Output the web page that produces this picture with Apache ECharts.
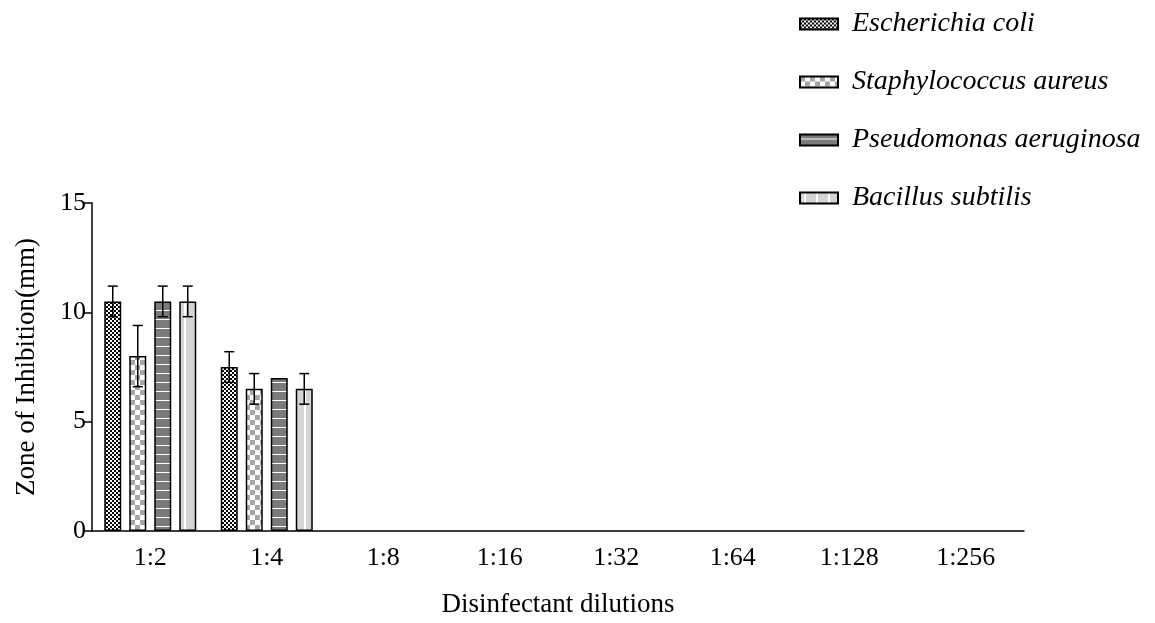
<!DOCTYPE html>
<html lang="en">
<head>
    <meta charset="utf-8">
    <title>Zone of Inhibition</title>
    <script src="https://cdn.jsdelivr.net/npm/echarts@6/dist/echarts.min.js"></script>
    <style>
        html, body { margin: 0; padding: 0; background: #fff; }
        #chart { width: 1155px; height: 623px; }
    </style>
</head>
<body>
<div id="chart"></div>
<script>
    var dilutions = ['1:2', '1:4', '1:8', '1:16', '1:32', '1:64', '1:128', '1:256'];
    var seriesNames = ['Escherichia coli', 'Staphylococcus aureus', 'Pseudomonas aeruginosa', 'Bacillus subtilis'];
    var ecoli = [10.5, 7.5, 0, 0, 0, 0, 0, 0];
    var saureus = [8, 6.5, 0, 0, 0, 0, 0, 0];
    var paeruginosa = [10.5, 7, 0, 0, 0, 0, 0, 0];
    var bsubtilis = [10.5, 6.5, 0, 0, 0, 0, 0, 0];
    var ecoliErr = [0.7, 0.7, 0, 0, 0, 0, 0, 0];
    var saureusErr = [1.4, 0.7, 0, 0, 0, 0, 0, 0];
    var paeruginosaErr = [0.7, 0, 0, 0, 0, 0, 0, 0];
    var bsubtilisErr = [0.7, 0.7, 0, 0, 0, 0, 0, 0];
    var yTicks = [0, 5, 10, 15];

    var values = [ecoli, saureus, paeruginosa, bsubtilis];
    var errors = [ecoliErr, saureusErr, paeruginosaErr, bsubtilisErr];

    // fill patterns drawn on small canvases
    function makePattern(w, h, draw) {
        var c = document.createElement('canvas');
        c.width = w; c.height = h;
        draw(c.getContext('2d'));
        return { image: c, repeat: 'repeat' };
    }
    var patterns = [
        makePattern(4, 4, function (g) {
            g.fillStyle = '#fff'; g.fillRect(0, 0, 4, 4);
            g.fillStyle = '#000'; g.fillRect(0, 0, 2, 2); g.fillRect(2, 2, 2, 2);
        }),
        makePattern(10, 10, function (g) {
            g.fillStyle = '#fff'; g.fillRect(0, 0, 10, 10);
            g.fillStyle = '#a6a6a6'; g.fillRect(0, 0, 5, 5); g.fillRect(5, 5, 5, 5);
        }),
        makePattern(9, 9, function (g) {
            g.fillStyle = '#7b7b7b'; g.fillRect(0, 0, 9, 9);
            g.fillStyle = '#fff'; g.fillRect(0, 4, 9, 1);
        }),
        makePattern(12, 12, function (g) {
            g.fillStyle = '#d4d4d4'; g.fillRect(0, 0, 12, 12);
            g.fillStyle = '#fff'; g.fillRect(4, 0, 2, 12);
        })
    ];

    var barWidth = 17;
    var barStep = 25;
    var font = 'Liberation Serif';

    var series = [];
    seriesNames.forEach(function (name, i) {
        series.push({
            name: name,
            type: 'bar',
            // zero bars carry no outline, as in the original
            data: values[i].map(function (v) {
                return v === 0 ? { value: v, itemStyle: { borderWidth: 0 } } : v;
            }),
            barWidth: barWidth,
            barGap: ((barStep - barWidth) / barWidth * 100) + '%',
            itemStyle: { color: patterns[i], borderColor: '#000', borderWidth: 1.5 }
        });
    });
    seriesNames.forEach(function (name, i) {
        var data = values[i].map(function (v, k) { return [k, v, errors[i][k]]; });
        series.push({
            type: 'custom',
            name: name + ' err',
            z: 5,
            data: data.filter(function (d) { return d[2] > 0; }),
            renderItem: function (params, api) {
                var k = api.value(0), v = api.value(1), e = api.value(2);
                var center = api.coord([k, v]);
                var x = center[0] + (i - 1.5) * barStep;
                var top = api.coord([k, v + e])[1];
                var bot = api.coord([k, v - e])[1];
                var cap = 5;
                var st = { stroke: '#000', lineWidth: 1.5 };
                return {
                    type: 'group',
                    children: [
                        { type: 'line', shape: { x1: x, y1: top, x2: x, y2: bot }, style: st },
                        { type: 'line', shape: { x1: x - cap, y1: top, x2: x + cap, y2: top }, style: st },
                        { type: 'line', shape: { x1: x - cap, y1: bot, x2: x + cap, y2: bot }, style: st }
                    ]
                };
            }
        });
    });

    var chart = echarts.init(document.getElementById('chart'));
    chart.setOption({
        animation: false,
        textStyle: { fontFamily: font },
        grid: { left: 92, right: 131, top: 203, bottom: 91 },
        legend: {
            data: seriesNames.map(function (n) { return { name: n, icon: 'rect' }; }),
            orient: 'vertical',
            left: 794,
            top: 5,
            itemWidth: 38,
            itemHeight: 11,
            itemGap: 30,
            textStyle: { fontFamily: font, fontStyle: 'italic', fontSize: 28, color: '#000', padding: [0, 0, 0, 9] }
        },
        xAxis: {
            type: 'category',
            data: dilutions,
            name: 'Disinfectant dilutions',
            nameLocation: 'middle',
            nameGap: 60,
            nameTextStyle: { fontFamily: font, fontSize: 27, color: '#000' },
            axisLine: { lineStyle: { color: '#000', width: 1.5 } },
            axisTick: { alignWithLabel: true, length: 8, lineStyle: { color: '#000', width: 1.5 } },
            axisLabel: { fontFamily: font, fontSize: 26, color: '#000', margin: 14 }
        },
        yAxis: {
            type: 'value',
            min: yTicks[0],
            max: yTicks[yTicks.length - 1],
            interval: 5,
            name: 'Zone of Inhibition(mm)',
            nameLocation: 'middle',
            nameGap: 52,
            nameTextStyle: { fontFamily: font, fontSize: 27, color: '#000' },
            splitLine: { show: false },
            axisLine: { show: true, lineStyle: { color: '#000', width: 1.5 } },
            axisTick: { show: true, length: 8, lineStyle: { color: '#000', width: 1.5 } },
            axisLabel: { fontFamily: font, fontSize: 26, color: '#000', margin: 6 }
        },
        series: series
    });
</script>
</body>
</html>
